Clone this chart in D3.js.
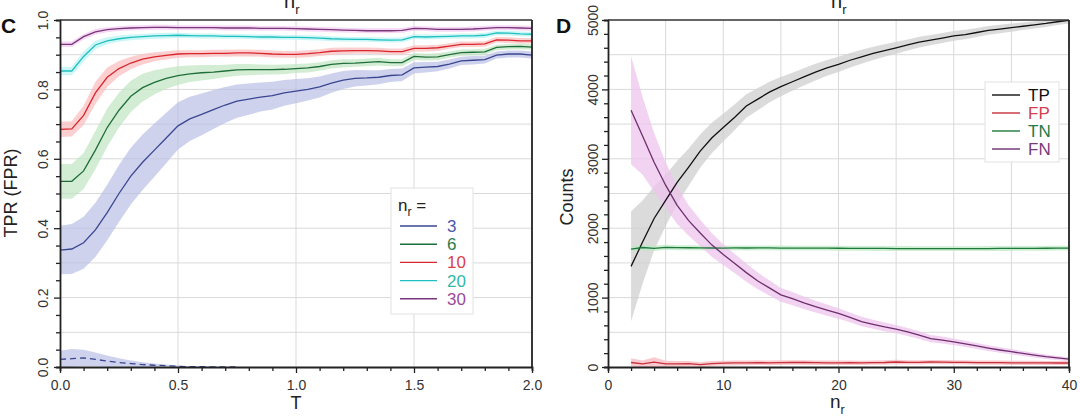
<!DOCTYPE html>
<html><head><meta charset="utf-8">
<script src="https://cdn.jsdelivr.net/npm/d3@7"></script>
<style>body{margin:0;background:#fff;overflow:hidden}text{font-family:"Liberation Sans",Arial,sans-serif;}</style>
</head><body>
<script>
// ---------- Panel C data ----------
const cT = [0,0.05,0.1,0.15,0.2,0.25,0.3,0.35,0.4,0.45,0.5,0.55,0.6,0.65,0.7,0.75,0.8,0.85,0.9,0.95,1,1.05,1.1,1.15,1.2,1.25,1.3,1.35,1.4,1.45,1.5,1.55,1.6,1.65,1.7,1.75,1.8,1.85,1.9,1.95,2];
const tpr3  = [.337,.340,.358,.395,.445,.50,.55,.59,.625,.66,.695,.715,.728,.742,.755,.766,.772,.778,.782,.79,.795,.80,.807,.818,.827,.832,.833,.835,.84,.842,.862,.864,.866,.873,.882,.884,.886,.899,.902,.902,.899];
const tpr6  = [.535,.535,.565,.625,.69,.74,.78,.805,.82,.832,.84,.845,.848,.85,.853,.856,.857,.857,.857,.858,.86,.862,.866,.872,.875,.876,.878,.88,.877,.877,.895,.893,.894,.90,.906,.907,.908,.921,.923,.924,.922];
const tpr10 = [.685,.686,.725,.79,.835,.86,.876,.887,.894,.898,.902,.903,.903,.904,.904,.905,.905,.904,.902,.901,.901,.903,.906,.91,.911,.912,.912,.911,.909,.909,.918,.918,.92,.925,.93,.93,.931,.943,.942,.94,.94];
const tpr20 = [.853,.853,.895,.928,.94,.946,.95,.952,.954,.955,.956,.955,.954,.954,.953,.953,.952,.951,.951,.95,.95,.949,.948,.946,.945,.944,.944,.943,.942,.943,.952,.951,.952,.953,.954,.954,.956,.963,.962,.96,.959];
const tpr30 = [.93,.93,.952,.966,.972,.975,.977,.978,.979,.979,.978,.978,.978,.978,.977,.977,.977,.976,.976,.976,.975,.974,.973,.972,.971,.970,.969,.969,.969,.970,.976,.975,.973,.973,.973,.974,.976,.978,.978,.977,.976];
const sd3  = [.07,.072,.075,.078,.08,.082,.082,.08,.077,.073,.068,.064,.06,.056,.052,.048,.045,.042,.04,.037,.035,.032,.03,.028,.026,.024,.022,.02,.019,.018,.016,.015,.014,.013,.012,.012,.011,.01,.01,.01,.01];
const sd6  = [.05,.05,.052,.055,.055,.05,.045,.04,.035,.03,.027,.024,.022,.02,.018,.017,.016,.015,.014,.014,.013,.013,.012,.012,.012,.011,.011,.011,.01,.01,.01,.01,.01,.009,.009,.009,.009,.008,.008,.008,.008];
const sd10 = [.022,.022,.028,.032,.028,.022,.018,.015,.013,.012,.011,.01,.01,.01,.01,.01,.01,.01,.01,.01,.01,.01,.01,.01,.01,.009,.009,.009,.009,.009,.009,.009,.009,.008,.008,.008,.008,.008,.008,.008,.008];
const sd20 = [.012,.012,.015,.012,.01,.009,.008,.008,.008,.008,.007,.007,.007,.007,.007,.007,.007,.007,.007,.007,.007,.007,.007,.007,.007,.007,.007,.007,.007,.007,.007,.007,.007,.007,.007,.007,.007,.007,.007,.007,.007];
const sd30 = [.008,.008,.008,.008,.007,.007,.007,.007,.007,.007,.007,.007,.007,.007,.007,.007,.007,.007,.007,.007,.007,.007,.007,.007,.007,.007,.007,.007,.007,.007,.007,.007,.007,.007,.007,.007,.007,.007,.007,.007,.007];
const fprT = [0,0.05,0.1,0.15,0.2,0.25,0.3,0.35,0.4,0.45,0.5,0.55,0.6,0.65,0.7,0.75];
const fpr3 = [.022,.024,.026,.022,.017,.013,.01,.007,.005,.004,.002,.001,.001,0,0,0];
const fprSd3 = [.025,.028,.024,.02,.016,.012,.009,.007,.005,.003,.002,.001,.001,0,0,0];
const cSeriesNames = ["3","6","10","20","30"];
const cXLabels = ["0.0","0.5","1.0","1.5","2.0"];
const cYLabels = ["0.0","0.2","0.4","0.6","0.8","1.0"];

// ---------- Panel D data ----------
const nr = [2,3,4,5,6,7,8,9,10,11,12,13,14,15,16,17,18,19,20,21,22,23,24,25,26,27,28,29,30,31,32,33,34,35,36,37,38,39,40];
const tp = [1450,1800,2140,2400,2660,2880,3110,3300,3450,3600,3760,3860,3960,4040,4110,4180,4250,4310,4360,4420,4470,4520,4560,4600,4640,4680,4710,4740,4770,4790,4820,4850,4870,4890,4910,4930,4950,4975,4995];
const tpSd = [790,600,460,370,310,270,240,220,200,185,170,160,150,140,130,125,120,115,110,105,100,95,90,85,80,78,75,72,70,68,65,62,60,58,55,52,50,48,45];
const fp = [65,45,70,45,45,50,35,50,55,58,60,62,60,63,65,65,62,60,60,62,60,63,65,72,68,66,72,70,68,66,64,62,62,60,60,60,58,58,58];
const fpSd = [60,50,70,45,40,38,35,35,35,35,34,34,33,33,33,32,32,32,32,32,31,31,31,31,31,30,30,30,30,30,30,30,30,30,30,30,30,30,30];
const tn = [1700,1722,1708,1725,1720,1718,1716,1715,1714,1716,1715,1717,1716,1714,1713,1712,1712,1713,1711,1710,1709,1708,1708,1707,1707,1706,1706,1705,1705,1706,1706,1707,1708,1708,1709,1710,1711,1712,1713];
const tnSd = [40,38,38,36,36,35,35,35,35,35,35,35,35,35,35,35,35,35,35,35,35,35,35,35,35,35,35,35,35,35,35,35,35,35,35,35,35,35,35];
const fn = [3700,3330,2950,2620,2330,2110,1930,1760,1620,1490,1360,1240,1140,1040,985,925,870,820,772,715,655,615,578,545,505,460,410,388,363,333,303,273,245,220,195,170,148,130,112];
const fnSd = [780,560,420,330,270,220,190,170,150,140,130,120,110,100,95,90,85,80,75,70,68,65,62,60,58,55,52,50,48,46,44,42,40,38,36,34,32,30,28];
const dSeriesNames = ["TP","FP","TN","FN"];
const dXLabels = ["0","10","20","30","40"];
const dYLabels = ["0","1000","2000","3000","4000","5000"];

// ---------- drawing ----------
const svg = d3.select("body").append("svg").attr("width",1080).attr("height",419);

function frame(x, y, o){
  const [x0,x1] = x.range(), [y0,y1] = y.range();
  const g = svg.append("g");
  g.selectAll(".gx").data(o.gridX).join("line").attr("x1",d=>x(d)).attr("x2",d=>x(d)).attr("y1",y0).attr("y2",y1).attr("stroke","#d9d9d9").attr("stroke-width",1);
  g.selectAll(".gy").data(o.gridY).join("line").attr("y1",d=>y(d)).attr("y2",d=>y(d)).attr("x1",x0).attr("x2",x1).attr("stroke","#d9d9d9").attr("stroke-width",1);
  const clipId = "clip"+o.id;
  svg.append("clipPath").attr("id",clipId).append("rect").attr("x",x0).attr("y",y1).attr("width",x1-x0).attr("height",y0-y1);
  return clipId;
}

function axes(x, y, o){
  const [x0,x1] = x.range(), [y0,y1] = y.range();
  const gx = svg.append("g").attr("transform",`translate(0,${y0})`)
    .call(d3.axisBottom(x).tickValues(o.xTicks).tickSizeOuter(0).tickSize(4)
      .tickFormat(d => { const i = o.xMajor.findIndex(m=>Math.abs(m-d)<1e-9); return i>=0 ? o.xLabels[i] : ""; }));
  gx.selectAll(".tick line").attr("y2", d => o.xMajor.some(m=>Math.abs(m-d)<1e-9) ? 6 : 4).attr("stroke","#222").attr("stroke-width",1.3);
  gx.select(".domain").attr("stroke","#222").attr("stroke-width",1.8);
  gx.selectAll("text").attr("y",13).attr("font-size",14).attr("fill","#333").attr("font-family","Liberation Sans, Arial, sans-serif");
  const gy = svg.append("g").attr("transform",`translate(${x0},0)`)
    .call(d3.axisLeft(y).tickValues(o.yTicks).tickSizeOuter(0).tickSize(4)
      .tickFormat(d => { const i = o.yMajor.findIndex(m=>Math.abs(m-d)<1e-9); return i>=0 ? o.yLabels[i] : ""; }));
  gy.selectAll(".tick line").attr("x2", d => o.yMajor.some(m=>Math.abs(m-d)<1e-9) ? -6 : -4).attr("stroke","#222").attr("stroke-width",1.3);
  gy.select(".domain").attr("stroke","#222").attr("stroke-width",1.8);
  gy.selectAll("text").attr("x",null).attr("dy",null).attr("text-anchor","middle")
    .attr("transform",`translate(${o.yLabOff},0) rotate(-90)`).attr("font-size",14).attr("fill","#333").attr("font-family","Liberation Sans, Arial, sans-serif");
  svg.append("line").attr("x1",x0).attr("x2",x1).attr("y1",y1).attr("y2",y1).attr("stroke","#333").attr("stroke-width",1.5);
  svg.append("line").attr("x1",x1).attr("x2",x1).attr("y1",y1).attr("y2",y0).attr("stroke","#222").attr("stroke-width",1.8);
}

function band(xs, ys, sd, x, y, fill, op, clip){
  const data = xs.map((d,i)=>({x:d, lo:Math.max(ys[i]-sd[i], y.domain()[0]), hi:ys[i]+sd[i]}));
  svg.append("path").datum(data).attr("clip-path",`url(#${clip})`)
    .attr("d", d3.area().x(d=>x(d.x)).y0(d=>y(d.lo)).y1(d=>y(d.hi)))
    .attr("fill",fill).attr("fill-opacity",op);
}
function line(xs, ys, x, y, color, w, dash, clip){
  svg.append("path").datum(xs.map((d,i)=>[d,ys[i]])).attr("clip-path",`url(#${clip})`)
    .attr("d", d3.line().x(d=>x(d[0])).y(d=>y(d[1])))
    .attr("fill","none").attr("stroke",color).attr("stroke-width",w).attr("stroke-dasharray",dash||null);
}

// ---- Panel C ----
const xC = d3.scaleLinear().domain([0,2]).range([60,532]);
const yC = d3.scaleLinear().domain([0,1]).range([367,20]);
const clipC = frame(xC, yC, {id:"C", gridX:[0.5,1,1.5], gridY:d3.range(0.1,1.0,0.1)});
const cVals = [tpr3,tpr6,tpr10,tpr20,tpr30];
const cSds = [sd3,sd6,sd10,sd20,sd30];
const cLine = ["#3a4690","#1f6e3a","#d8262c","#1fbfbf","#7a357a"];
const cBand = ["#b9bfe6","#bfe5c2","#fbbcbc","#b8f2f2","#f1c8ef"];
const cText = ["#4a58a8","#2a7a4a","#d8404a","#30b8a8","#9a4a9a"];
band(fprT, fpr3, fprSd3, xC, yC, cBand[0], 0.7, clipC);
cVals.forEach((v,i)=>band(cT, v, cSds[i], xC, yC, cBand[i], 0.7, clipC));
cVals.forEach((v,i)=>line(cT, v, xC, yC, cLine[i], 1.3, null, clipC));
line(fprT, fpr3, xC, yC, cLine[0], 1.3, "6,4", clipC);
axes(xC, yC, {xTicks:d3.range(0,2.0001,0.1), xMajor:[0,0.5,1,1.5,2], xLabels:cXLabels,
  yTicks:d3.range(0,1.0001,0.05), yMajor:[0,0.2,0.4,0.6,0.8,1.0], yLabels:cYLabels, yLabOff:-12});

const lc = svg.append("g");
lc.append("rect").attr("x",391).attr("y",188).attr("width",82).attr("height",126).attr("fill","#fff").attr("stroke","#e2e2e2");
const lct = lc.append("text").attr("x",398).attr("y",211).attr("font-size",17).attr("fill","#222");
lct.append("tspan").text("n");
lct.append("tspan").attr("dy",5).attr("font-size",12).text("r");
lct.append("tspan").attr("dy",-5).text(" =");
cSeriesNames.forEach((n,i)=>{
  const yy = 226 + i*18.2;
  lc.append("line").attr("x1",400).attr("x2",437).attr("y1",yy).attr("y2",yy).attr("stroke",cLine[i]).attr("stroke-width",1.4);
  lc.append("text").attr("x",447).attr("y",yy+6).attr("font-size",17).attr("fill",cText[i]).text(n);
});

// ---- Panel D ----
const xD = d3.scaleLinear().domain([0,40]).range([608,1069]);
const yD = d3.scaleLinear().domain([0,5000]).range([367,20]);
const clipD = frame(xD, yD, {id:"D", gridX:[5,10,15,20,25,30,35], gridY:d3.range(500,5000,500)});
const dVals = [tp,fp,tn,fn];
const dSds = [tpSd,fpSd,tnSd,fnSd];
const dLine = ["#111111","#c8303a","#1e7a3c","#6e2f6e"];
const dBand = ["#cfcfcf","#f7b9c0","#bfeac4","#eec4ec"];
const dText = ["#111111","#d04050","#1e7a4a","#7a3a7a"];
dVals.forEach((v,i)=>band(nr, v, dSds[i], xD, yD, dBand[i], 0.75, clipD));
dVals.forEach((v,i)=>line(nr, v, xD, yD, dLine[i], 1.3, null, clipD));
axes(xD, yD, {xTicks:d3.range(0,40.001,2), xMajor:[0,10,20,30,40], xLabels:dXLabels,
  yTicks:d3.range(0,5000.1,200), yMajor:[0,1000,2000,3000,4000,5000], yLabels:dYLabels, yLabOff:-10});

const ld = svg.append("g");
ld.append("rect").attr("x",985).attr("y",82).attr("width",74).attr("height",80).attr("fill","#fff").attr("stroke","#e2e2e2");
dSeriesNames.forEach((n,i)=>{
  const yy = 95 + i*18;
  ld.append("line").attr("x1",992).attr("x2",1020).attr("y1",yy).attr("y2",yy).attr("stroke",dLine[i]).attr("stroke-width",1.4);
  ld.append("text").attr("x",1028).attr("y",yy+6).attr("font-size",17).attr("fill",dText[i]).text(n);
});

// ---- titles / labels ----
function nrText(x, y, size){
  const t = svg.append("text").attr("x",x).attr("y",y).attr("font-size",size).attr("fill","#222");
  t.append("tspan").text("n");
  t.append("tspan").attr("dy",size*0.3).attr("font-size",size*0.65).text("r");
}
nrText(284, 8, 20);
nrText(831, 8, 20);
nrText(830, 408, 19);
svg.append("text").attr("x",296).attr("y",409).attr("text-anchor","middle").attr("font-size",18).attr("fill","#222").text("T");
svg.append("text").attr("transform","translate(17,193) rotate(-90)").attr("text-anchor","middle").attr("font-size",18).attr("fill","#222").text("TPR (FPR)");
svg.append("text").attr("transform","translate(573,197) rotate(-90)").attr("text-anchor","middle").attr("font-size",18).attr("fill","#222").text("Counts");
svg.append("text").attr("x",1).attr("y",33).attr("font-size",21).attr("font-weight","bold").attr("fill","#111").text("C");
svg.append("text").attr("x",556).attr("y",33).attr("font-size",21).attr("font-weight","bold").attr("fill","#111").text("D");
</script>
</body></html>
